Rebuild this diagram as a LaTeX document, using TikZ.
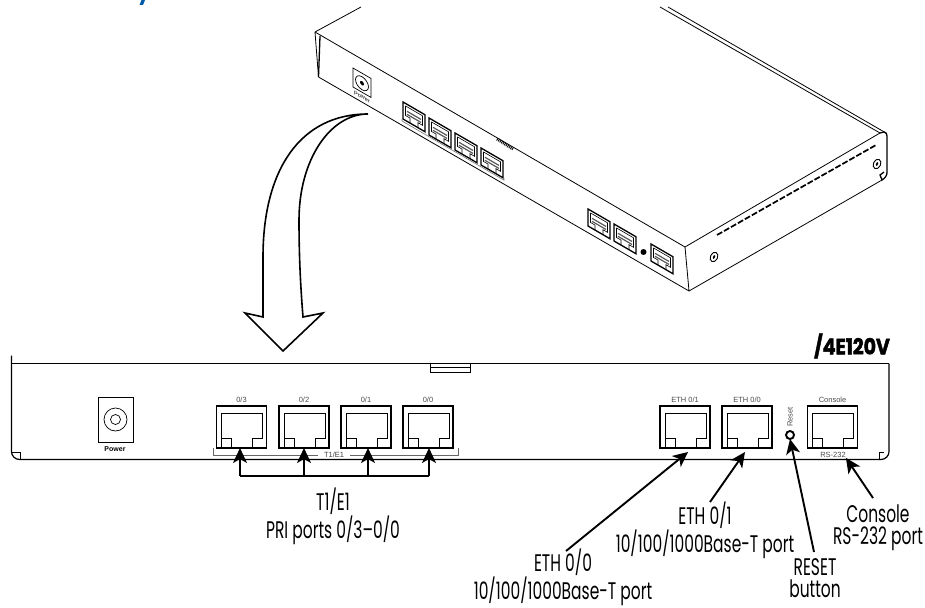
\documentclass[tikz,border=0pt]{standalone}
\usepackage{fontspec}
\setmainfont{Liberation Sans}
\newfontfamily\calloutfont[FakeStretch=0.645]{Poppins}
\newfontfamily\modelfont[FakeStretch=0.86, BoldFeatures={FakeBold=2}]{Poppins}
\definecolor{titleblue}{RGB}{0,90,170}
\usetikzlibrary{arrows.meta, positioning}

\begin{document}
\begin{tikzpicture}[x=1pt, y=-1pt, >={Stealth[length=15pt, width=14pt, inset=4pt]},
  port/.style={draw, line width=1.9pt, minimum width=50pt, minimum height=42pt, inner sep=0pt, outer sep=0pt,
    path picture={\draw[line width=.7pt] (path picture bounding box.south west) ++(5,0) -- ++(0,-35) -- ++(41,0) -- ++(0,25) -- ++(-10,0) -- ++(0,10) ++(-21,0) -- ++(0,-10) -- ++(-10,0);}},
  portlabel/.style={font=\fontsize{7.5}{8}\selectfont, text=black!70, inner sep=0pt},
  callout/.style={font=\calloutfont\fontsize{24}{22}\selectfont, align=center, inner sep=0pt},
  arrow/.style={->, line width=1.9pt},
  body/.style={line width=.8pt, line join=round},
  rim/.style={line width=1.3pt}]
\useasboundingbox (0,0) rectangle (925,607);
% device seen from above
\fill[titleblue] (139.5,5) -- (143,5) -- (145,0) -- (141.5,0) -- cycle;
\draw[body] (361,7) -- (315,32) -- (685,247) -- (880,133);
\draw[body] (315,32) -- (318.5,77);
\draw[rim] (320,36) -- (318.5,77);
\draw[body] (318.5,77) -- (689,291) -- (882,180);
\draw[body] (685,247) -- (689,291);
\draw[body] (660,7) -- (880,133);
\draw[body] (668,7) -- (886,133);
\draw[rim] (880,133) -- (884,132) .. controls (886,132) and (887,134) .. (887,136) -- (887,172) .. controls (887,176) and (885,178) .. (882,180) -- (880,175) -- (884,172);
\draw[line width=1.7pt, dash pattern=on 6pt off 2pt] (717,235) -- (876,145);
\draw[line width=3pt, dash pattern=on .9pt off .9pt] (497,139) -- (513,149);
\foreach \sx/\sy in {714/257, 877/164} {
  \draw[line width=.9pt, rotate around={-25:(\sx,\sy)}] (\sx,\sy) ellipse (3.6 and 5);
  \fill[rotate around={-25:(\sx,\sy)}] (\sx,\sy) ellipse (1 and 2);
}
\begin{scope}[shift={(353,68)}, yslant=-0.58]
  \draw[line width=.7pt] (0,0) rectangle (18,19);
  \draw[line width=.7pt] (9,10) ellipse (6.5 and 6.5);
  \fill (9,10) circle (2);
  \node[font=\fontsize{5.5}{6}\selectfont, transform shape, inner sep=0pt] (isopower) at (9,23.5) {Power};
\end{scope}
\foreach \px/\py in {403/102, 429/118, 455/133, 481/148, 588/209, 614/224, 651/244} {
  \begin{scope}[shift={(\px,\py)}, yslant=-0.58]
    \draw[line width=1.3pt] (0,0) rectangle (22,17);
    \draw[line width=.6pt] (2.5,2.5) -- (19.5,2.5) -- (19.5,12) -- (15,12) -- (15,17) (2.5,2.5) -- (2.5,12) -- (7,12) -- (7,17);
    \draw[line width=1.2pt, black!65] (4,7) -- (18,7) (4,10) -- (18,10);
  \end{scope}
}
\begin{scope}[shift={(402,120)}, yslant=-0.58]
  \draw[line width=.6pt, black!55] (0,-1) -- (0,1) -- (102,1) -- (102,-1);
\end{scope}
\fill (643.5,252) circle (3);
% curved arrow down to the panel
\draw[line width=1.6pt, line join=miter] (368,114) .. controls (300,114) and (263,170) .. (263,257) -- (263,317) -- (245,313) -- (283,351) -- (323,313) -- (303,317) .. controls (300,280) and (299,250) .. (299,220) .. controls (299,160) and (330,114) .. (368,114);
% rear panel
\draw[line width=1.2pt, rounded corners=8pt] (889,363.5) -- (889,459.5) -- (11.5,459.5) -- (11.5,363.5) [sharp corners] -- (11.5,363.5);
\draw[line width=1.2pt] (11.5,363.5) -- (889,363.5);
\draw[line width=.8pt] (12,452) -- (20,452) -- (20,459) (884,452) -- (879,452) -- (879,459);
\draw[line width=.8pt] (430,363.5) rectangle (470,372) (430,367.5) -- (470,367.5);
\node[font=\modelfont\bfseries\fontsize{22}{22}\selectfont, inner sep=0pt] (model) at (852,346) {/4E120V};
\node[draw, line width=.8pt, minimum width=35pt, minimum height=45pt, inner sep=0pt] (powerjack) at (115.5,419.5) {};
\draw[line width=.7pt] (powerjack.center) circle (11.5) circle (5);
\node[font=\bfseries\fontsize{7}{8}\selectfont, inner sep=0pt] (powerlbl) at (115,449) {Power};
\foreach \pname/\cx/\plabel in {portthree/241.5/{0/3}, porttwo/304/{0/2}, portone/366/{0/1}, portzero/428/{0/0}, ethone/685/{ETH 0/1}, ethzero/747/{ETH 0/0}, console/832.5/Console} {
  \node[port] (\pname) at (\cx,427) {};
  \node[portlabel, above=3.5pt of \pname] (\pname lbl) {\plabel};
}
\node[portlabel, text=black!75] (trunklbl) at (334,455) {T1/E1};
\draw[line width=.6pt, black!60] (213,448) -- (213,455) -- (318,455) (350,455) -- (458,455) -- (458,448);
\node[portlabel, rotate=90] (resetlbl) at (790,417) {Reset};
\node[draw, circle, line width=1.9pt, minimum size=8pt, inner sep=0pt, outer sep=0pt] (resetbtn) at (790,435) {};
\node[portlabel] (rslbl) at (833,455) {RS-232};
% callouts
\node[callout] (trunktxt) at (333,516) {T1/E1\\PRI ports 0/3–0/0};
\node[callout] (ethzerotxt) at (563,577) {ETH 0/0\\10/100/1000Base-T port};
\node[callout] (ethonetxt) at (705,530) {ETH 0/1\\10/100/1000Base-T port};
\node[callout] (resettxt) at (815,578) {RESET\\button};
\node[callout] (consoletxt) at (878,528) {Console\\RS-232 port};
\coordinate (busa) at (240,476);
\coordinate (busb) at (304,476);
\coordinate (busc) at (368,476);
\coordinate (busd) at (429,476);
\draw[line width=1.9pt] (busa) -- (busd);
\foreach \bus/\pname in {busa/portthree, busb/porttwo, busc/portone, busd/portzero}
  \draw[arrow] (\bus) -- (\bus |- \pname.south);
\draw[arrow] (566,551) -- ([shift={(3,4)}]ethone.south);
\draw[arrow] (710,502) -- ([shift={(-2,4)}]ethzero.south);
\draw[arrow] (814,552) -- (resetbtn.south);
\draw[arrow] (873,498) -- (rslbl.south east);
\end{tikzpicture}
\end{document}
